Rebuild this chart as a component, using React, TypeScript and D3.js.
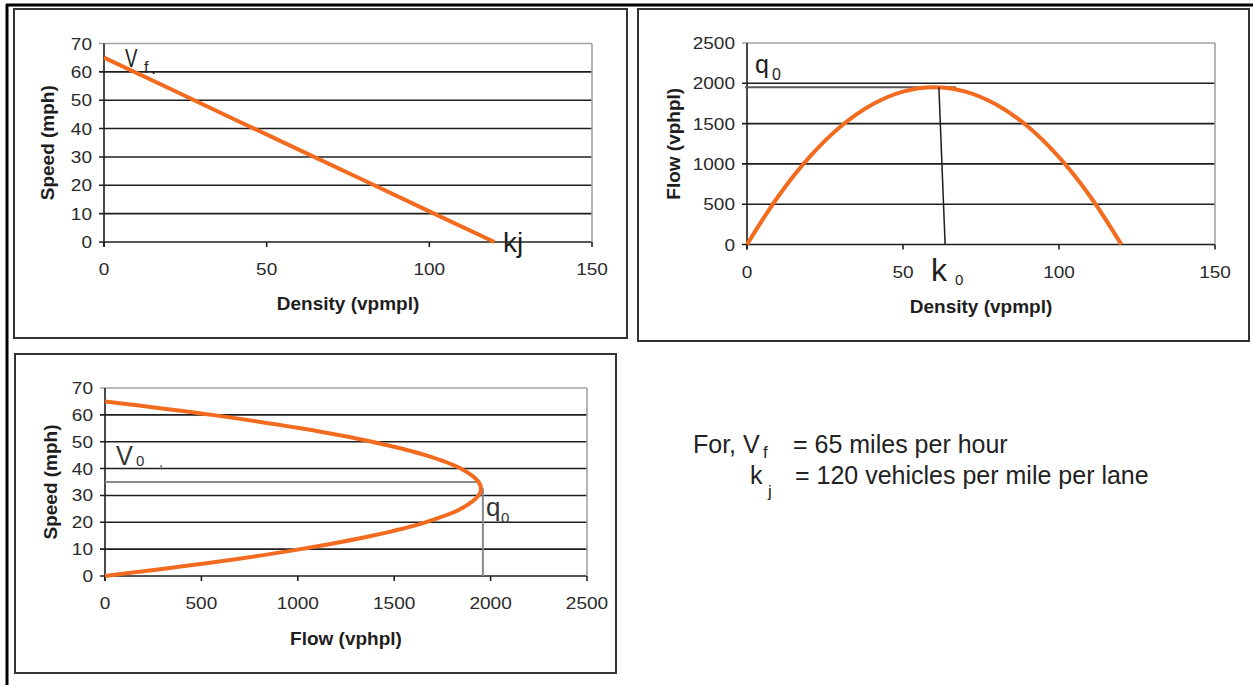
import React from 'react';
import * as d3 from 'd3';

// values
const svDensity = [0, 20, 40, 60, 80, 100, 120];
const svSpeed = [65, 54.2, 43.3, 32.5, 21.7, 10.8, 0];

const qkDensity = [0, 10, 20, 30, 40, 50, 60, 70, 80, 90, 100, 110, 120];
const qkFlow = [0, 596, 1083, 1463, 1733, 1896, 1950, 1896, 1733, 1463, 1083, 596, 0];

const vqSpeed = [0, 5, 10, 15, 20, 25, 30, 32.5, 35, 40, 45, 50, 55, 60, 65];
const vqFlow = [0, 554, 1015, 1385, 1662, 1846, 1938, 1950, 1938, 1846, 1662, 1385, 1015, 554, 0];

// annotation values
const qMax = 1950;
const kOptTop = 61.5;
const kOptBottom = 63.5;
const kGuideEnd = 67;
const vOpt = 35;
const qGuideEnd = 1945;
const qDrop = 1960;
const vDropTop = 32.7;

const densityTicks = [0, 50, 100, 150];
const speedTicks = [0, 10, 20, 30, 40, 50, 60, 70];
const flowTicks = [0, 500, 1000, 1500, 2000, 2500];

const FONT = 'Arial, "Liberation Sans", Helvetica, sans-serif';
const ORANGE = '#f26b1f';
const INK = '#1e1e1e';

type Scale = d3.ScaleLinear<number, number>;

const Label = ({ x, y, size, text, sx = 1, weight = 'normal', anchor = 'start', fill = INK }: any) => (
  <text
    transform={`translate(${x},${y}) scale(${sx},1)`}
    fontFamily={FONT}
    fontSize={size}
    fontWeight={weight}
    textAnchor={anchor}
    fill={fill}
  >
    {text}
  </text>
);

const Axes = ({ x, y, xTicks, yTicks, xTitle, yTitle, yTitleX, xTitleY }: {
  x: Scale; y: Scale; xTicks: number[]; yTicks: number[];
  xTitle: string; yTitle: string; yTitleX: number; xTitleY: number;
}) => {
  const [x0, x1] = x.range();
  const [y0, y1] = y.range();
  return (
    <g>
      {yTicks.map((t, i) => (
        <line key={'g' + t} x1={x0 - 5} x2={x1} y1={y(t)} y2={y(t)}
          stroke={i === yTicks.length - 1 ? '#a3a3a3' : INK} strokeWidth={1.6} />
      ))}
      <line x1={x1} x2={x1} y1={y1} y2={y0} stroke="#a3a3a3" strokeWidth={1.6} />
      <line x1={x0} x2={x0} y1={y1} y2={y0 + 5} stroke={INK} strokeWidth={1.6} />
      {xTicks.map(t => (
        <line key={'t' + t} x1={x(t)} x2={x(t)} y1={y0} y2={y0 + 5} stroke={INK} strokeWidth={1.6} />
      ))}
      {yTicks.map(t => (
        <Label key={'yl' + t} x={x0 - 12} y={y(t) + 6} size={17} sx={1.12} anchor="end" fill="#2a2a2a" text={t} />
      ))}
      {xTicks.map(t => (
        <Label key={'xl' + t} x={x(t)} y={y0 + 33} size={17} sx={1.12} anchor="middle" fill="#2a2a2a" text={t} />
      ))}
      <text x={(x0 + x1) / 2} y={xTitleY} textAnchor="middle" fontFamily={FONT}
        fontSize={19} fontWeight="bold" fill={INK}>{xTitle}</text>
      <text transform={`translate(${yTitleX},${(y0 + y1) / 2}) rotate(-90)`} textAnchor="middle"
        fontFamily={FONT} fontSize={19} fontWeight="bold" fill={INK}>{yTitle}</text>
    </g>
  );
};

const curve = (x: Scale, y: Scale, xs: number[], ys: number[], smooth: boolean) =>
  d3.line<number>()
    .x(i => x(xs[i]))
    .y(i => y(ys[i]))
    .curve(smooth ? d3.curveCatmullRom.alpha(0.5) : d3.curveLinear)(xs.map((_, i) => i)) || '';

export default function App() {
  // speed vs density
  const x1 = d3.scaleLinear().domain([0, 150]).range([104, 592]);
  const y1 = d3.scaleLinear().domain([0, 70]).range([242, 43.5]);
  // flow vs density
  const x2 = d3.scaleLinear().domain([0, 150]).range([747, 1215]);
  const y2 = d3.scaleLinear().domain([0, 2500]).range([244.5, 43]);
  // speed vs flow
  const x3 = d3.scaleLinear().domain([0, 2500]).range([105, 587]);
  const y3 = d3.scaleLinear().domain([0, 70]).range([576, 388]);

  return (
    <svg width={1253} height={685} style={{ position: 'absolute', left: 0, top: 0, background: '#fff' }}>
      {/* outer frame */}
      <line x1={7} x2={7} y1={4} y2={685} stroke="#000" strokeWidth={3} />
      <line x1={6} x2={1253} y1={5} y2={5} stroke="#000" strokeWidth={3} />

      {/* panel boxes */}
      <rect x={14} y={9} width={613} height={329} fill="none" stroke="#333" strokeWidth={2} />
      <rect x={638} y={9} width={611} height={332} fill="none" stroke="#333" strokeWidth={2} />
      <rect x={15} y={354} width={601} height={319} fill="none" stroke="#333" strokeWidth={2} />

      {/* speed - density */}
      <Axes x={x1} y={y1} xTicks={densityTicks} yTicks={speedTicks}
        xTitle="Density (vpmpl)" yTitle="Speed (mph)" yTitleX={54} xTitleY={310} />
      <path d={curve(x1, y1, svDensity, svSpeed, false)} fill="none" stroke={ORANGE} strokeWidth={4} />
      <Label x={125} y={67} size={25} sx={0.75} text="V" />
      <Label x={144} y={73} size={16} text="f" />
      <Label x={151} y={74} size={18} text="." />
      <Label x={503} y={252} size={28} text="kj" />

      {/* flow - density */}
      <Axes x={x2} y={y2} xTicks={densityTicks} yTicks={flowTicks}
        xTitle="Density (vpmpl)" yTitle="Flow (vphpl)" yTitleX={680} xTitleY={313} />
      <line x1={x2(0) - 2} x2={x2(kGuideEnd)} y1={y2(qMax)} y2={y2(qMax)} stroke="#5a5a5a" strokeWidth={2} />
      <path d={curve(x2, y2, qkDensity, qkFlow, true)} fill="none" stroke={ORANGE} strokeWidth={4} />
      <line x1={x2(kOptTop)} x2={x2(kOptBottom)} y1={y2(qMax)} y2={y2(0)} stroke={INK} strokeWidth={1.5} />
      <Label x={755} y={73} size={25} text="q" />
      <Label x={772} y={80} size={16} text="0" />
      <Label x={931} y={281} size={32} text="k" />
      <Label x={955} y={285} size={15} text="0" />

      {/* speed - flow */}
      <Axes x={x3} y={y3} xTicks={flowTicks} yTicks={speedTicks}
        xTitle="Flow (vphpl)" yTitle="Speed (mph)" yTitleX={57} xTitleY={645} />
      <line x1={x3(0)} x2={x3(qGuideEnd)} y1={y3(vOpt)} y2={y3(vOpt)} stroke="#8a8a8a" strokeWidth={2} />
      <line x1={x3(qDrop)} x2={x3(qDrop)} y1={y3(vDropTop)} y2={y3(0)} stroke="#8a8a8a" strokeWidth={2} />
      <path d={curve(x3, y3, vqFlow, vqSpeed, true)} fill="none" stroke={ORANGE} strokeWidth={4} />
      <Label x={116} y={465} size={28} sx={0.9} text="V" fill="#333" />
      <Label x={136} y={466} size={15} text="0" fill="#333" />
      <Label x={159} y={467} size={15} text="." fill="#333" />
      <Label x={486} y={516} size={26} text="q" fill="#333" />
      <Label x={501} y={523} size={15} text="0" fill="#333" />

      {/* note */}
      <Label x={693} y={453} size={25} text="For, V" fill="#222" />
      <Label x={763} y={458} size={17} text="f" fill="#222" />
      <Label x={793} y={453} size={25} text="= 65 miles per hour" fill="#222" />
      <Label x={750} y={484} size={25} text="k" fill="#222" />
      <Label x={768} y={497} size={17} text="j" fill="#222" />
      <Label x={795} y={484} size={25} text="= 120 vehicles per mile per lane" fill="#222" />
    </svg>
  );
}
